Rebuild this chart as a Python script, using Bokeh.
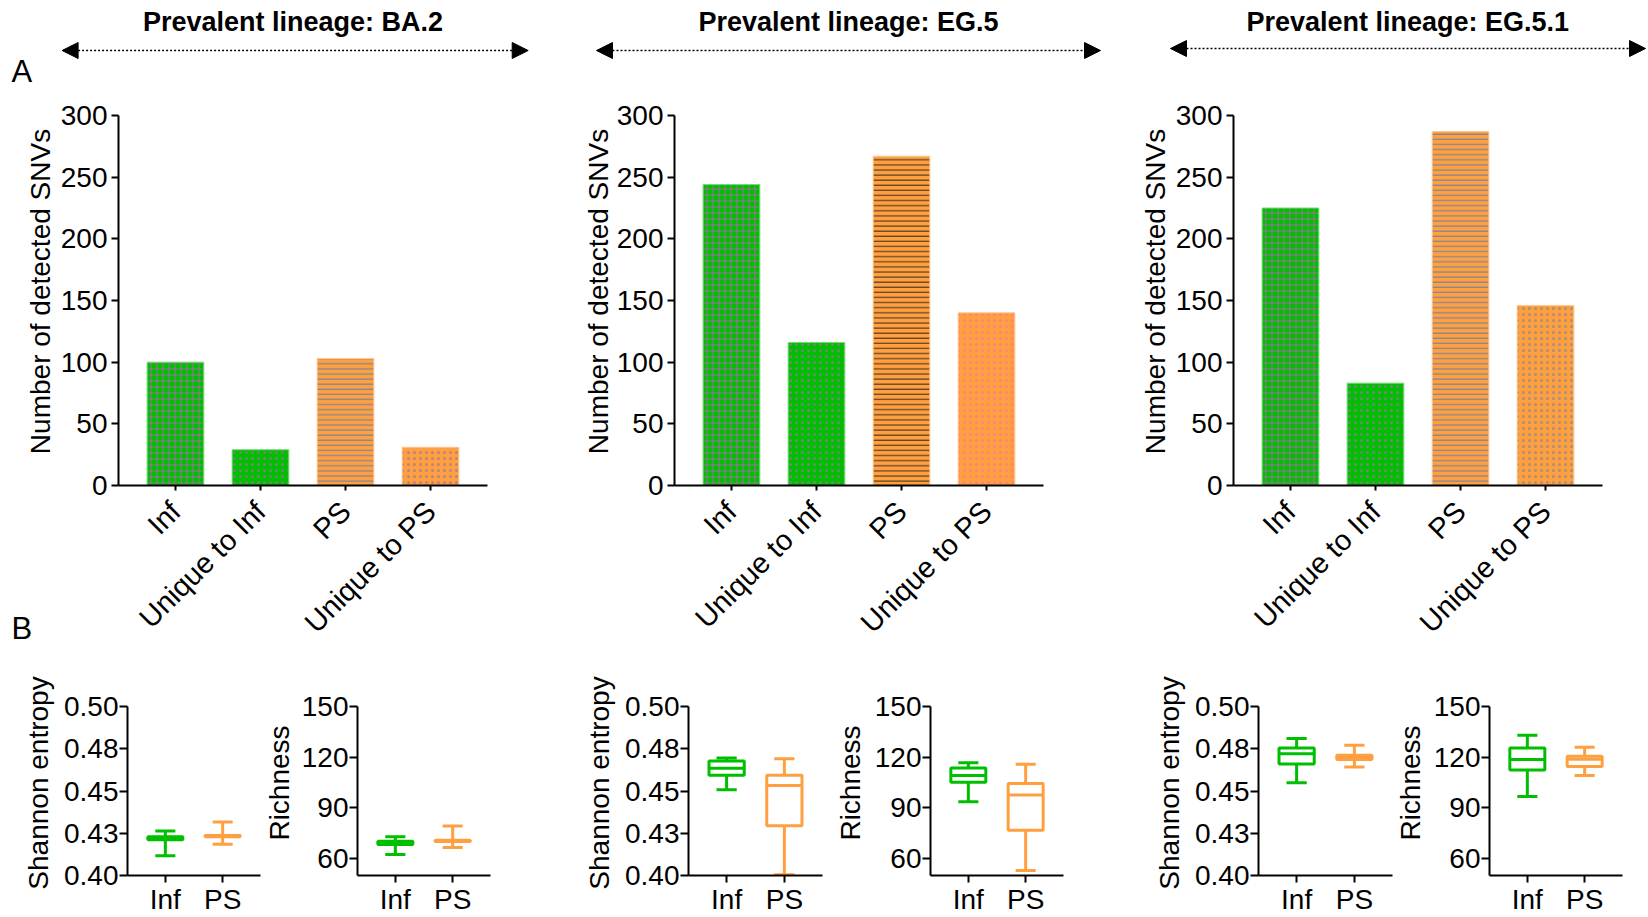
import math
from bokeh.plotting import figure
from bokeh.layouts import column, row
from bokeh.models import (Range1d, FactorRange, FixedTicker, CustomJSTickFormatter,
                          Arrow, NormalHead, ColumnDataSource)
from bokeh.core.properties import value
from bokeh.embed import file_html
from bokeh.resources import INLINE

# ---------------- data ----------------
titles = ["Prevalent lineage: BA.2", "Prevalent lineage: EG.5", "Prevalent  lineage: EG.5.1"]
snv_categories = ["Inf", "Unique to Inf", "PS", "Unique to PS"]
snv_ba2 = [100, 29, 103, 31]
snv_eg5 = [244, 116, 267, 140]
snv_eg51 = [225, 83, 287, 146]

groups = ["Inf", "PS"]
# Shannon entropy: whisker low, Q1, median, Q3, whisker high  (Inf, PS)
shannon_ba2_lo = [0.4117, 0.4185]
shannon_ba2_q1 = [0.4212, 0.4229]
shannon_ba2_med = [0.4222, 0.4233]
shannon_ba2_q3 = [0.4230, 0.4237]
shannon_ba2_hi = [0.4263, 0.4317]

shannon_eg5_lo = [0.4508, 0.4004]
shannon_eg5_q1 = [0.4593, 0.4295]
shannon_eg5_med = [0.4634, 0.4533]
shannon_eg5_q3 = [0.4677, 0.4593]
shannon_eg5_hi = [0.4696, 0.4691]

shannon_eg51_lo = [0.4549, 0.4642]
shannon_eg51_q1 = [0.4660, 0.4687]
shannon_eg51_med = [0.4720, 0.4698]
shannon_eg51_q3 = [0.4755, 0.4712]
shannon_eg51_hi = [0.4811, 0.4771]

# Richness
richness_ba2_lo = [62.5, 66.6]
richness_ba2_q1 = [68.3, 70.1]
richness_ba2_med = [69.3, 70.5]
richness_ba2_q3 = [70.3, 70.8]
richness_ba2_hi = [72.9, 79.3]

richness_eg5_lo = [93.7, 53.0]
richness_eg5_q1 = [105.2, 76.8]
richness_eg5_med = [109.1, 97.6]
richness_eg5_q3 = [113.6, 104.4]
richness_eg5_hi = [116.7, 115.9]

richness_eg51_lo = [96.8, 109.1]
richness_eg51_q1 = [112.4, 114.5]
richness_eg51_med = [118.6, 118.8]
richness_eg51_q3 = [125.5, 120.6]
richness_eg51_hi = [133.0, 125.9]

shannon_ticks = [0.40, 0.425, 0.45, 0.475, 0.50]
richness_ticks = [60, 90, 120, 150]
snv_ticks = [0, 50, 100, 150, 200, 250, 300]

# ---------------- style ----------------
FONT = "Liberation Sans"
GREEN = "#00BE00"
ORANGE = "#FFA040"
MAGENTA = "#FF40FF"
BLUEH = "#4A78C0"
H = 917          # page height, used to place free texts by page pixel
ROW_A_TOP, ROW_B_TOP = 95, 657


def P(y):
    return H - y


def style_axes(p, tick_font="28px"):
    p.grid.visible = False
    p.outline_line_color = None
    for ax in p.axis:
        ax.axis_line_width = 2
        ax.axis_line_color = "black"
        ax.major_tick_line_width = 2
        ax.major_tick_line_color = "black"
        ax.major_tick_in = 0
        ax.minor_tick_line_color = None
        ax.major_label_text_font = FONT
        ax.major_label_text_font_size = tick_font
        ax.major_label_text_color = "black"


def strip(x0, x1, ytop, ybot):
    s = figure(width=x1 - x0, height=ybot - ytop, x_range=Range1d(x0, x1),
               y_range=Range1d(P(ybot), P(ytop)), output_backend="svg",
               toolbar_location=None, min_border=0, x_axis_type=None, y_axis_type=None,
               frame_align=False)
    s.grid.visible = False
    s.outline_line_color = None
    return s


def vlabel(s, x, y, text):
    s.text(x=[x], y=[P(y)], text=[text], angle=math.pi / 2, text_font=value(FONT),
           text_font_size="28px", text_align="center", text_baseline="middle",
           text_color="black")


# ---------------- header ----------------
hdr = strip(0, 1648, 0, ROW_A_TOP)
hdr.text(x=[292.5, 848, 1411], y=[P(21)] * 3, text=titles,
         text_font=value(FONT), text_font_style="bold", text_font_size="27px",
         text_align="center", text_baseline="middle", text_color="black")
hdr.text(x=[11], y=[P(70.5)], text=["A"], text_font=value(FONT), text_font_size="31px",
         text_align="left", text_baseline="middle", text_color="black")
for x0, x1, yy in [(61.6, 527.7, 50), (596, 1100, 50), (1170, 1645, 48)]:
    hdr.add_layout(Arrow(start=NormalHead(size=16, fill_color="black", line_color="black"),
                         end=NormalHead(size=16, fill_color="black", line_color="black"),
                         x_start=x0, y_start=P(yy), x_end=x1, y_end=P(yy),
                         line_color="black", line_width=1.5, line_dash="2 2"))


# ---------------- bar panels ----------------
A_HEIGHT = ROW_B_TOP - ROW_A_TOP   # frame from y=115 to y=485


def bar_fig(values, width, left, right, hatch_colors):
    p = figure(width=width, height=A_HEIGHT,
               x_range=FactorRange(*snv_categories, range_padding=0.17, range_padding_units="absolute"),
               y_range=Range1d(0, 300), output_backend="svg", toolbar_location=None,
               min_border_left=left, min_border_right=right, min_border_top=20,
               min_border_bottom=A_HEIGHT - 20 - 370, frame_align=False)
    src = ColumnDataSource(dict(cat=snv_categories, val=values,
                                fill=[GREEN, GREEN, ORANGE, ORANGE],
                                line=["#70E070", "#70E070", "#FFC890", "#FFC890"],
                                hatch=["+", ".", "-", "."],
                                hcolor=hatch_colors,
                                halpha=[0.6, 0.45, 0.85, 0.45],
                                hweight=[1.0, 1.0, 1.0, 1.0],
                                hscale=[6.0, 6.0, 5.1, 6.0]))
    p.vbar(x="cat", top="val", width=0.667, source=src, fill_color="fill",
           line_color="line", line_width=1, hatch_pattern="hatch", hatch_color="hcolor",
           hatch_weight="hweight", hatch_scale="hscale", hatch_alpha="halpha")
    style_axes(p)
    p.yaxis.ticker = FixedTicker(ticks=snv_ticks)
    p.yaxis.major_tick_out = 7
    p.yaxis.major_label_standoff = 4
    p.xaxis.major_tick_out = 5
    p.xaxis.major_label_standoff = 16
    p.xaxis.major_label_text_font_size = "29px"
    p.xaxis.major_label_orientation = math.pi / 4
    return p


sA1 = strip(0, 57, ROW_A_TOP, ROW_B_TOP)
vlabel(sA1, 39.5, 291, "Number of detected SNVs")
sA1.text(x=[11], y=[P(628)], text=["B"], text_font=value(FONT), text_font_size="31px",
         text_align="left", text_baseline="middle", text_color="black")
a1 = bar_fig(snv_ba2, 503, 60, 73, [MAGENTA, MAGENTA, BLUEH, "#6A5AE0"])

sA2 = strip(560, 613, ROW_A_TOP, ROW_B_TOP)
vlabel(sA2, 597.5, 291, "Number of detected SNVs")
a2 = bar_fig(snv_eg5, 507, 60, 77, [MAGENTA, MAGENTA, "#151515", "#FF5CC8"])

sA3 = strip(1120, 1172, ROW_A_TOP, ROW_B_TOP)
vlabel(sA3, 1155, 291, "Number of detected SNVs")
a3 = bar_fig(snv_eg51, 476, 60, 46, [MAGENTA, MAGENTA, BLUEH, BLUEH])


# ---------------- box panels ----------------
B_HEIGHT = H - ROW_B_TOP   # frame from y=706 to y=877


def box_fig(width, left, right, yr, ticks, lo, q1, med, q3, hi, shannon):
    p = figure(width=width, height=B_HEIGHT,
               x_range=FactorRange(*groups, range_padding=0.16, range_padding_units="absolute"),
               y_range=Range1d(*yr), output_backend="svg", toolbar_location=None,
               min_border_left=left, min_border_right=right, min_border_top=706 - ROW_B_TOP,
               min_border_bottom=40, frame_align=False)
    src = ColumnDataSource(dict(g=groups, lo=lo, q1=q1, med=med, q3=q3, hi=hi, c=[GREEN, ORANGE]))
    p.segment(x0="g", y0="q3", x1="g", y1="hi", line_color="c", line_width=3, source=src)
    p.segment(x0="g", y0="q1", x1="g", y1="lo", line_color="c", line_width=3, source=src)
    p.vbar(x="g", top="q3", bottom="q1", width=0.61, fill_color="white", line_color="c",
           line_width=3, source=src)
    p.rect(x="g", y="med", width=0.64, height=3, height_units="screen", fill_color="c",
           line_color=None, source=src)
    p.rect(x="g", y="hi", width=0.35, height=3, height_units="screen", fill_color="c",
           line_color=None, source=src)
    p.rect(x="g", y="lo", width=0.35, height=3, height_units="screen", fill_color="c",
           line_color=None, source=src)
    style_axes(p)
    p.yaxis.ticker = FixedTicker(ticks=ticks)
    if shannon:
        p.yaxis.formatter = CustomJSTickFormatter(
            code="return (Math.round(tick*100 + 1e-6)/100).toFixed(2);")
    p.yaxis.major_tick_out = 8
    p.yaxis.major_label_standoff = 1
    p.xaxis.major_tick_out = 7
    p.xaxis.major_label_standoff = 1
    return p


s1 = strip(0, 61, ROW_B_TOP, H)
vlabel(s1, 38, 782.5, "Shannon entropy")
b1 = box_fig(201, 65, 2, (0.40, 0.50), shannon_ticks,
             shannon_ba2_lo, shannon_ba2_q1, shannon_ba2_med, shannon_ba2_q3, shannon_ba2_hi, True)
s2 = strip(262, 298, ROW_B_TOP, H)
vlabel(s2, 278.6, 782.5, "Richness")
b2 = box_fig(262, 57, 70, (50, 150), richness_ticks,
             richness_ba2_lo, richness_ba2_q1, richness_ba2_med, richness_ba2_q3, richness_ba2_hi, False)
s3 = strip(560, 622, ROW_B_TOP, H)
vlabel(s3, 599, 782.5, "Shannon entropy")
b3 = box_fig(206, 65, 6, (0.40, 0.50), shannon_ticks,
             shannon_eg5_lo, shannon_eg5_q1, shannon_eg5_med, shannon_eg5_q3, shannon_eg5_hi, True)
s4 = strip(828, 871, ROW_B_TOP, H)
vlabel(s4, 850.3, 782.5, "Richness")
b4 = box_fig(249, 57, 57, (50, 150), richness_ticks,
             richness_eg5_lo, richness_eg5_q1, richness_eg5_med, richness_eg5_q3, richness_eg5_hi, False)
s5 = strip(1120, 1192, ROW_B_TOP, H)
vlabel(s5, 1168.5, 782.5, "Shannon entropy")
b5 = box_fig(202, 65, 2, (0.40, 0.50), shannon_ticks,
             shannon_eg51_lo, shannon_eg51_q1, shannon_eg51_med, shannon_eg51_q3, shannon_eg51_hi, True)
s6 = strip(1394, 1430, ROW_B_TOP, H)
vlabel(s6, 1410, 782.5, "Richness")
b6 = box_fig(218, 57, 26, (50, 150), richness_ticks,
             richness_eg51_lo, richness_eg51_q1, richness_eg51_med, richness_eg51_q3, richness_eg51_hi, False)

layout = column(hdr,
                row(sA1, a1, sA2, a2, sA3, a3),
                row(s1, b1, s2, b2, s3, b3, s4, b4, s5, b5, s6, b6))

open("out.html", "w").write(file_html(layout, INLINE))
